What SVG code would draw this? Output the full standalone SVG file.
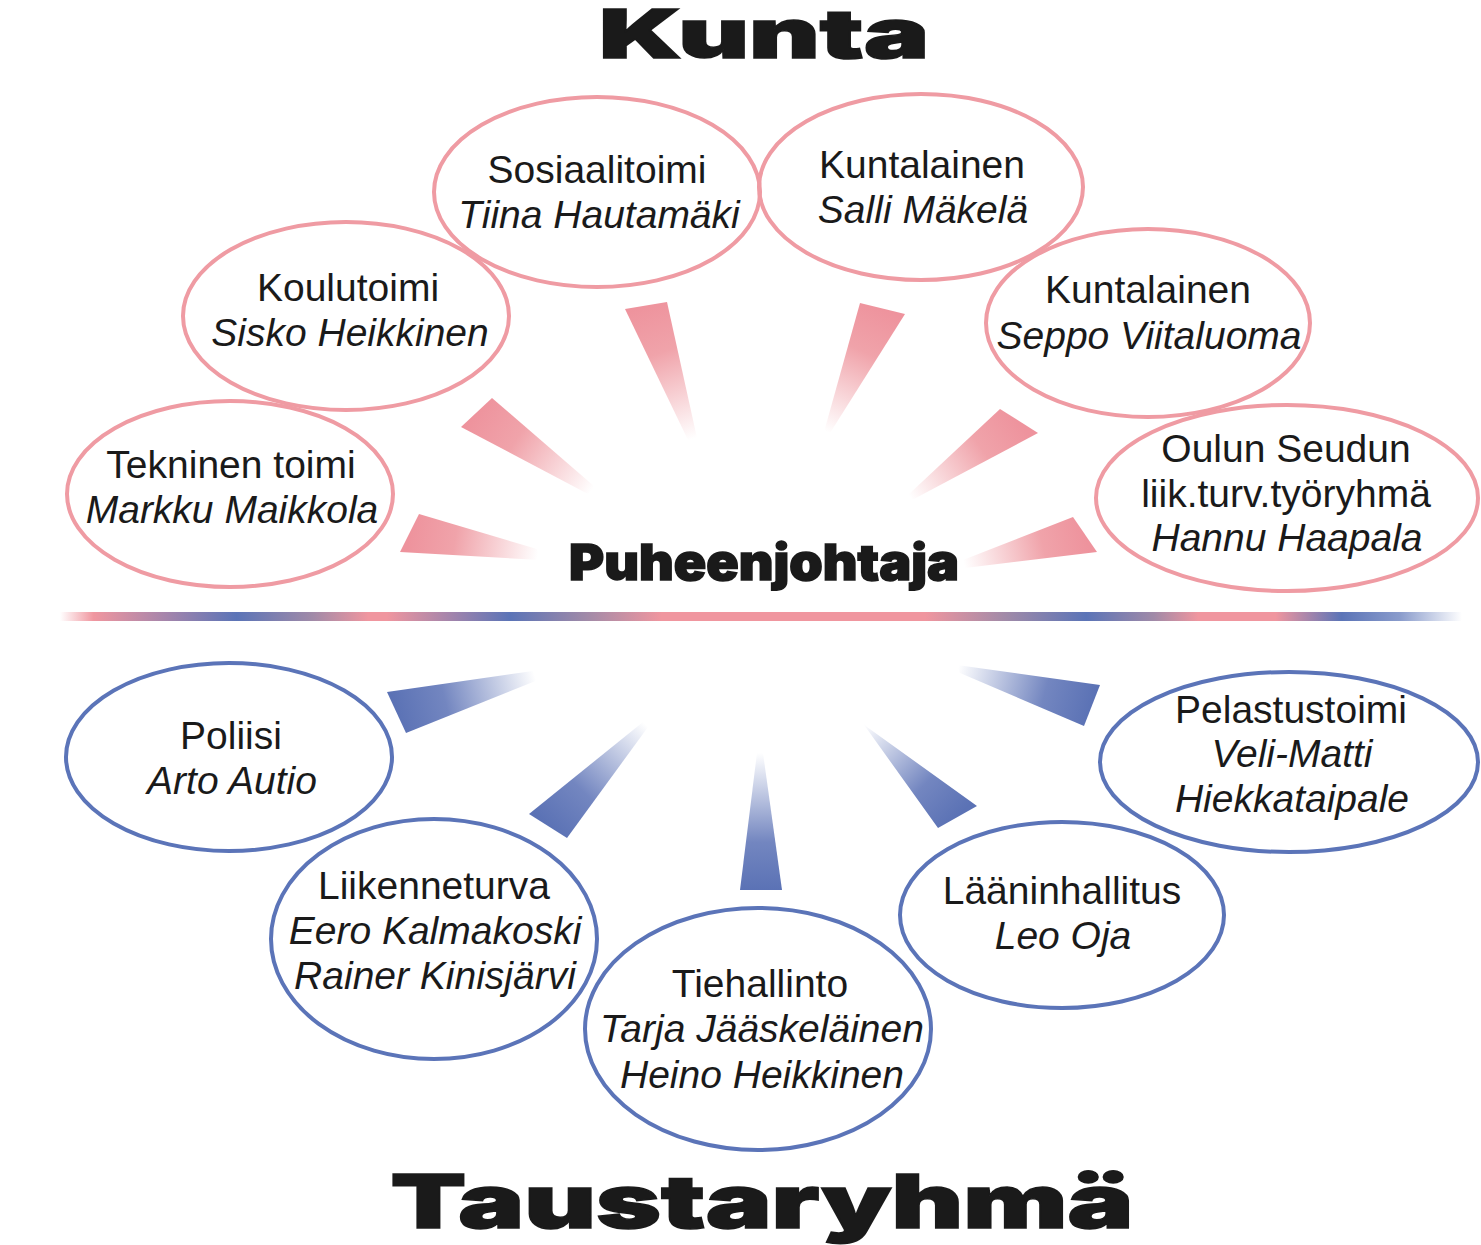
<svg xmlns="http://www.w3.org/2000/svg" width="1481" height="1245" viewBox="0 0 1481 1245">
<style>
.pk{fill:none;stroke:#ef9ba3;stroke-width:4}
.bl{fill:none;stroke:#5b74b8;stroke-width:4}
.t{font-family:"Liberation Sans",Arial,sans-serif;font-size:39px;fill:#1a1a1a;text-anchor:middle}
.i{font-style:italic}
.big{font-family:"Inter","DejaVu Sans",sans-serif;font-weight:900;fill:#1a1a1a;stroke:#1a1a1a;stroke-width:1.5}
</style>
<defs>
<linearGradient id="hl" x1="60" y1="0" x2="1462" y2="0" gradientUnits="userSpaceOnUse">
<stop offset="0" stop-color="#ffffff"/>
<stop offset="0.024" stop-color="#f0969f"/>
<stop offset="0.126" stop-color="#5b74b7"/>
<stop offset="0.18" stop-color="#a08aa8"/>
<stop offset="0.22" stop-color="#f0969f"/>
<stop offset="0.233" stop-color="#f0969f"/>
<stop offset="0.321" stop-color="#5b74b7"/>
<stop offset="0.375" stop-color="#a08aa8"/>
<stop offset="0.429" stop-color="#f0969f"/>
<stop offset="0.617" stop-color="#f0969f"/>
<stop offset="0.675" stop-color="#a08aa8"/>
<stop offset="0.732" stop-color="#5b74b7"/>
<stop offset="0.78" stop-color="#a08aa8"/>
<stop offset="0.812" stop-color="#f0969f"/>
<stop offset="0.867" stop-color="#f0969f"/>
<stop offset="0.914" stop-color="#5b74b7"/>
<stop offset="0.956" stop-color="#8a9ccc"/>
<stop offset="1" stop-color="#ffffff"/>
</linearGradient>
<linearGradient id="p1" gradientUnits="userSpaceOnUse" x1="646" y1="305" x2="693" y2="439"><stop offset="0" stop-color="#ee939d"/><stop offset="0.35" stop-color="#f0a3aa"/><stop offset="1" stop-color="#fff"/></linearGradient>
<linearGradient id="p2" gradientUnits="userSpaceOnUse" x1="476" y1="412" x2="592" y2="490"><stop offset="0" stop-color="#ee939d"/><stop offset="0.35" stop-color="#f0a3aa"/><stop offset="1" stop-color="#fff"/></linearGradient>
<linearGradient id="p3" gradientUnits="userSpaceOnUse" x1="410" y1="533" x2="538" y2="555"><stop offset="0" stop-color="#ee939d"/><stop offset="0.35" stop-color="#f0a3aa"/><stop offset="1" stop-color="#fff"/></linearGradient>
<linearGradient id="p4" gradientUnits="userSpaceOnUse" x1="882" y1="308" x2="827" y2="432"><stop offset="0" stop-color="#ee939d"/><stop offset="0.35" stop-color="#f0a3aa"/><stop offset="1" stop-color="#fff"/></linearGradient>
<linearGradient id="p5" gradientUnits="userSpaceOnUse" x1="1019" y1="421" x2="910" y2="497"><stop offset="0" stop-color="#ee939d"/><stop offset="0.35" stop-color="#f0a3aa"/><stop offset="1" stop-color="#fff"/></linearGradient>
<linearGradient id="p6" gradientUnits="userSpaceOnUse" x1="1085" y1="534" x2="964" y2="564"><stop offset="0" stop-color="#ee939d"/><stop offset="0.35" stop-color="#f0a3aa"/><stop offset="1" stop-color="#fff"/></linearGradient>
<linearGradient id="b1" gradientUnits="userSpaceOnUse" x1="396" y1="712" x2="535" y2="676"><stop offset="0" stop-color="#5b72b5"/><stop offset="0.35" stop-color="#7386c0"/><stop offset="1" stop-color="#fff"/></linearGradient>
<linearGradient id="b2" gradientUnits="userSpaceOnUse" x1="548" y1="826" x2="645" y2="724"><stop offset="0" stop-color="#5b72b5"/><stop offset="0.35" stop-color="#7386c0"/><stop offset="1" stop-color="#fff"/></linearGradient>
<linearGradient id="b3" gradientUnits="userSpaceOnUse" x1="761" y1="890" x2="760" y2="753"><stop offset="0" stop-color="#5b72b5"/><stop offset="0.35" stop-color="#7386c0"/><stop offset="1" stop-color="#fff"/></linearGradient>
<linearGradient id="b4" gradientUnits="userSpaceOnUse" x1="957" y1="817" x2="864" y2="724"><stop offset="0" stop-color="#5b72b5"/><stop offset="0.35" stop-color="#7386c0"/><stop offset="1" stop-color="#fff"/></linearGradient>
<linearGradient id="b5" gradientUnits="userSpaceOnUse" x1="1092" y1="705" x2="958" y2="669"><stop offset="0" stop-color="#5b72b5"/><stop offset="0.35" stop-color="#7386c0"/><stop offset="1" stop-color="#fff"/></linearGradient>
</defs>
<rect width="1481" height="1245" fill="#ffffff"/>

<text class="big" x="764" y="58" font-size="68" text-anchor="middle" textLength="330" lengthAdjust="spacingAndGlyphs">Kunta</text>
<text class="big" x="762" y="1228" font-size="74" text-anchor="middle" textLength="743" lengthAdjust="spacingAndGlyphs">Taustaryhmä</text>
<text class="big" x="764" y="580" font-size="50" text-anchor="middle" textLength="390" lengthAdjust="spacingAndGlyphs">Puheenjohtaja</text>

<rect x="60" y="612" width="1402" height="9" fill="url(#hl)"/>

<g id="connectors">
<polygon points="625,309 667,302 697,438 688,440" fill="url(#p1)"/>
<polygon points="461,427 492,398 595,487 588,494" fill="url(#p2)"/>
<polygon points="419,514 400,552 540,560 537,549" fill="url(#p3)"/>
<polygon points="860,303 905,314 830,433 824,432" fill="url(#p4)"/>
<polygon points="1000,409 1038,433 912,500 908,495" fill="url(#p5)"/>
<polygon points="1073,517 1097,552 965,568 963,560" fill="url(#p6)"/>
<polygon points="387,692 406,733 538,680 533,671" fill="url(#b1)"/>
<polygon points="529,814 567,838 648,727 643,722" fill="url(#b2)"/>
<polygon points="740,890 782,890 763,753 757,753" fill="url(#b3)"/>
<polygon points="977,806 938,828 862,722 867,727" fill="url(#b4)"/>
<polygon points="1100,685 1084,726 960,673 957,665" fill="url(#b5)"/>
</g>

<g id="sosiaalitoimi">
<ellipse class="pk" cx="597" cy="192" rx="163" ry="95"/>
<text class="t" x="597" y="183">Sosiaalitoimi</text>
<text class="t i" x="599" y="228">Tiina Hautamäki</text>
</g>
<g id="kuntalainen1">
<ellipse class="pk" cx="921" cy="187" rx="162" ry="93"/>
<text class="t" x="922" y="178">Kuntalainen</text>
<text class="t i" x="923" y="223">Salli Mäkelä</text>
</g>
<g id="koulutoimi">
<ellipse class="pk" cx="346" cy="316" rx="163" ry="94"/>
<text class="t" x="348" y="301">Koulutoimi</text>
<text class="t i" x="350" y="346">Sisko Heikkinen</text>
</g>
<g id="kuntalainen2">
<ellipse class="pk" cx="1148" cy="323" rx="162" ry="94"/>
<text class="t" x="1148" y="303">Kuntalainen</text>
<text class="t i" x="1149" y="349">Seppo Viitaluoma</text>
</g>
<g id="tekninen">
<ellipse class="pk" cx="230" cy="494" rx="163" ry="93"/>
<text class="t" x="231" y="478">Tekninen toimi</text>
<text class="t i" x="232" y="523">Markku Maikkola</text>
</g>
<g id="oulun">
<ellipse class="pk" cx="1287" cy="498" rx="191" ry="93"/>
<text class="t" x="1286" y="462">Oulun Seudun</text>
<text class="t" x="1286" y="507">liik.turv.työryhmä</text>
<text class="t i" x="1287" y="551">Hannu Haapala</text>
</g>

<g id="poliisi">
<ellipse class="bl" cx="229" cy="757" rx="163" ry="94"/>
<text class="t" x="231" y="749">Poliisi</text>
<text class="t i" x="232" y="794">Arto Autio</text>
</g>
<g id="pelastustoimi">
<ellipse class="bl" cx="1289" cy="762" rx="189" ry="90"/>
<text class="t" x="1291" y="723">Pelastustoimi</text>
<text class="t i" x="1292" y="767">Veli-Matti</text>
<text class="t i" x="1292" y="812">Hiekkataipale</text>
</g>
<g id="liikenneturva">
<ellipse class="bl" cx="434" cy="939" rx="163" ry="120"/>
<text class="t" x="434" y="899">Liikenneturva</text>
<text class="t i" x="435" y="944">Eero Kalmakoski</text>
<text class="t i" x="435" y="989">Rainer Kinisjärvi</text>
</g>
<g id="laaninhallitus">
<ellipse class="bl" cx="1062" cy="915" rx="162" ry="93"/>
<text class="t" x="1062" y="904">Lääninhallitus</text>
<text class="t i" x="1063" y="949">Leo Oja</text>
</g>
<g id="tiehallinto">
<ellipse class="bl" cx="758" cy="1029" rx="173" ry="121"/>
<text class="t" x="760" y="997">Tiehallinto</text>
<text class="t i" x="762" y="1042">Tarja Jääskeläinen</text>
<text class="t i" x="762" y="1088">Heino Heikkinen</text>
</g>
</svg>
